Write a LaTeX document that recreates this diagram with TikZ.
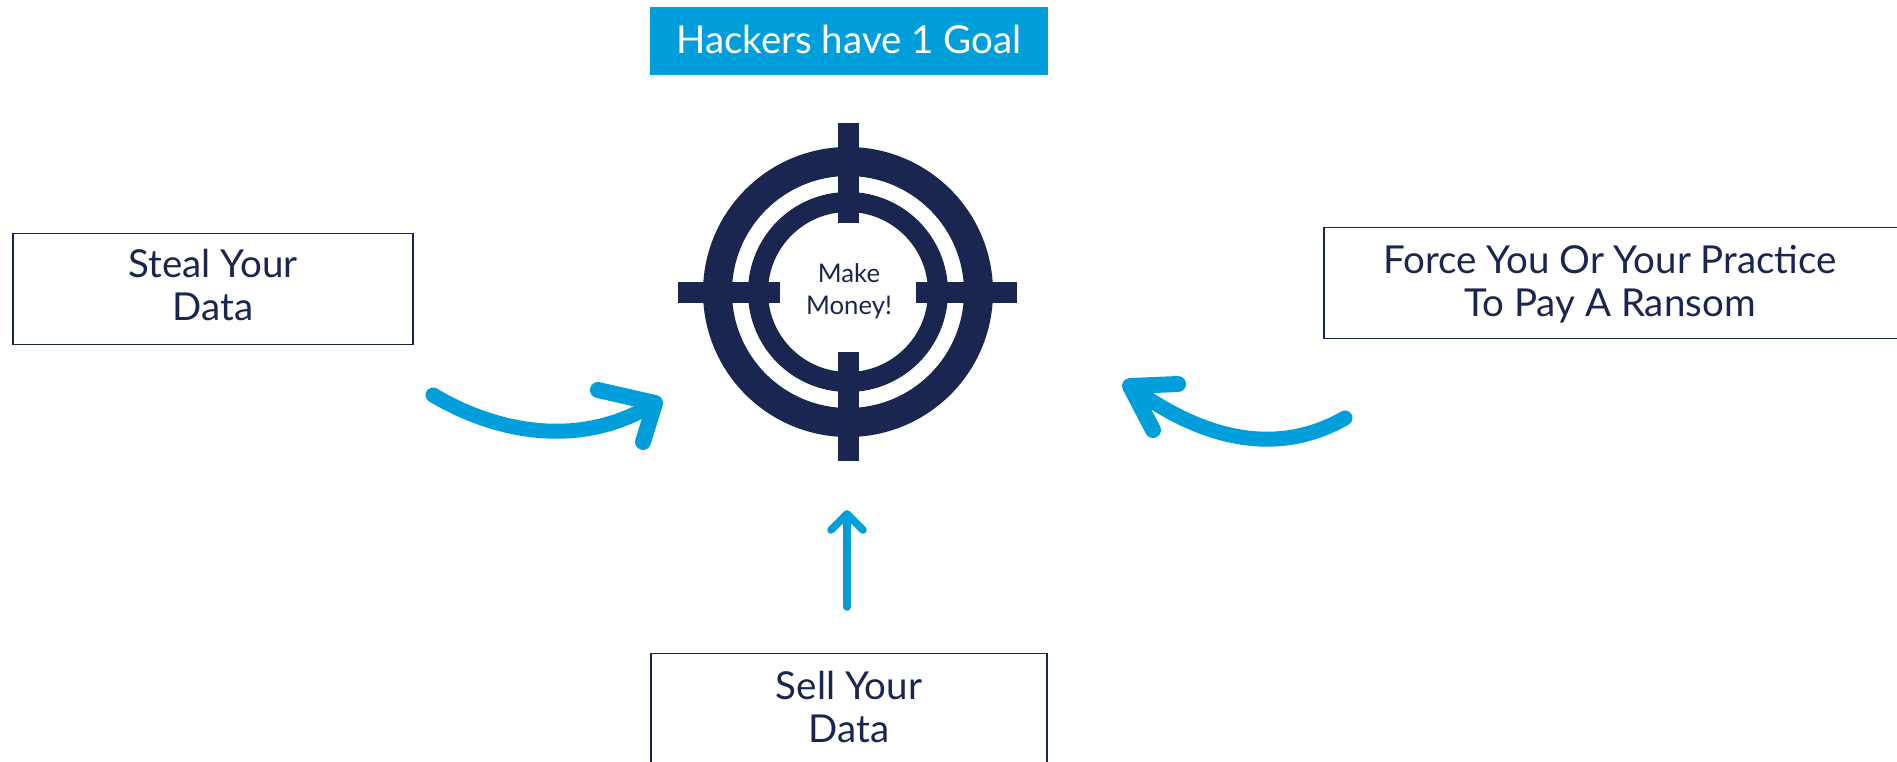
\documentclass[tikz,border=0pt]{standalone}
\usepackage{fontspec}
\setmainfont{Lato}
\definecolor{navy}{HTML}{1A2650}
\definecolor{sky}{HTML}{009FDB}
\tikzstyle{box}=[draw=navy,line width=1.5pt,inner sep=0,minimum height=111pt]
\tikzstyle{tag}=[text=navy,align=center,inner sep=0,font=\fontsize{38.5}{43.5}\selectfont]
\tikzstyle{bar}=[fill=navy,inner sep=0]
\tikzstyle{curve}=[draw=sky,line width=15pt,line cap=round,line join=round]
\tikzstyle{head}=[draw=sky,line width=16pt,line cap=round,line join=round]
\tikzstyle{thin}=[draw=sky,line width=7.5pt,line cap=round,line join=round]

\begin{document}
\begin{tikzpicture}[x=1pt,y=-1pt]
	\clip (0,0) rectangle (1897,761);

	\node[fill=sky,inner sep=0,minimum width=398pt,minimum height=68pt] (goal) at (849,41) {};
	\node[tag,text=white] (goaltext) at (849,39) {Hackers have 1 Goal};

	\node[box,minimum width=400pt] (steal) at (213,289) {};
	\node[box,minimum width=574pt] (force) at (1611,283) {};
	\node[box,minimum width=396pt] (sell) at (849,709) {};

	\node[tag] (stealtext) at (213,285) {Steal Your\\Data};
	\node[tag] (forcetext) at (1610,284) {Force You Or Your Practice\\To Pay A Ransom};
	\node[tag] (selltext) at (849,707) {Sell Your\\Data};

	\coordinate (c) at (848,292);
	\draw[navy,line width=29pt] (c) circle (130.5pt);
	\draw[navy,line width=20pt] (c) circle (90pt);

	\node[bar,minimum width=21pt,minimum height=100pt] (top) at (848,173) {};
	\node[bar,minimum width=21pt,minimum height=109pt] (bottom) at (848,406.5) {};
	\node[bar,minimum width=102pt,minimum height=21pt] (left) at (729,292) {};
	\node[bar,minimum width=101pt,minimum height=21pt] (right) at (966.5,292) {};

	\node[text=navy,align=center,inner sep=0,font=\fontsize{25.7}{32}\selectfont] (money) at (849,291.5) {Make\\Money!};

	\coordinate (a) at (433,395);
	\coordinate (b) at (655,403);
	\coordinate (b1) at (598,390);
	\coordinate (b2) at (643,442);

	\coordinate (d) at (1345,418);
	\coordinate (e) at (1130,386);
	\coordinate (e1) at (1178,384);
	\coordinate (e2) at (1153,430);

	\coordinate (f) at (847,607);
	\coordinate (g) at (847,514);
	\coordinate (g1) at (831,530);
	\coordinate (g2) at (863,530);

	\draw[curve] (a) .. controls (495,432) and (580,450) .. (b);
	\draw[head] (b1) -- (b) -- (b2);

	\draw[curve] (d) .. controls (1275,458) and (1200,438) .. (e);
	\draw[head] (e1) -- (e) -- (e2);

	\draw[thin] (f) -- (g);
	\draw[thin] (g1) -- (g) -- (g2);

\end{tikzpicture}
\end{document}
